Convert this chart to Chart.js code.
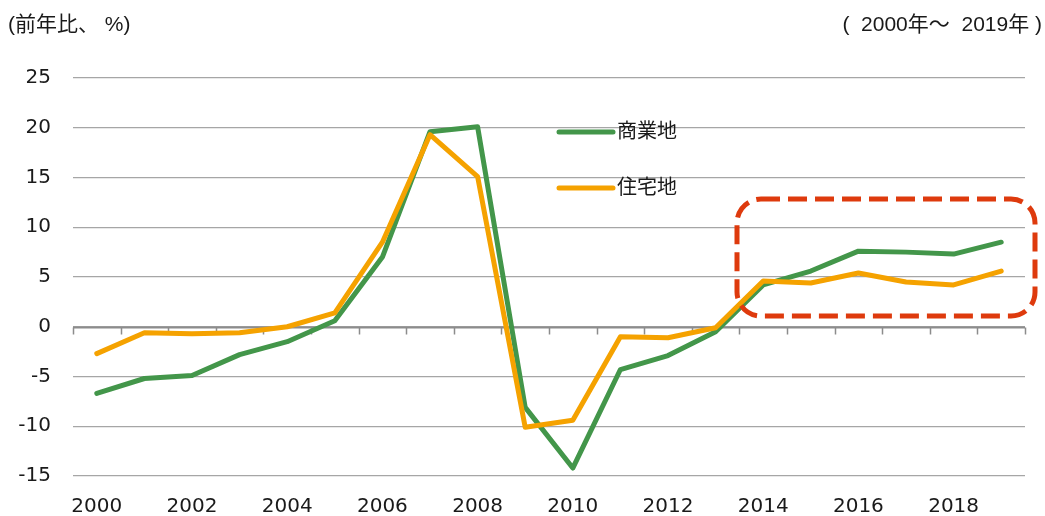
<!DOCTYPE html>
<html>
<head>
<meta charset="utf-8">
<script src="https://cdn.jsdelivr.net/npm/chart.js@4.4.1/dist/chart.umd.min.js"></script>
<style>
html,body{margin:0;padding:0;background:#fff;}
#wrap{width:1045px;height:516px;position:relative;}
</style>
</head>
<body>
<div id="wrap"><canvas id="c" width="1045" height="516"></canvas></div>
<script>
const years = ['2000','2001','2002','2003','2004','2005','2006','2007','2008','2009','2010','2011','2012','2013','2014','2015','2016','2017','2018','2019'];
const commercial = [-6.7,-5.2,-4.9,-2.8,-1.5,0.6,7.0,19.6,20.1,-8.1,-14.2,-4.3,-2.9,-0.5,4.2,5.6,7.6,7.5,7.3,8.5];
const residential = [-2.7,-0.6,-0.7,-0.6,0.0,1.4,8.5,19.3,15.1,-10.1,-9.4,-1.0,-1.1,-0.1,4.6,4.4,5.4,4.5,4.2,5.6];
const seriesNames = ['商業地','住宅地'];
const yTicks = [-15,-10,-5,0,5,10,15,20,25];
const unitLabel = '(前年比、 %)';
const periodLabel = '(  2000年～  2019年 )';

const CJK = '"Noto Sans CJK JP", "Noto Sans", sans-serif';
const MIX = '"Liberation Sans", "Noto Sans CJK JP", sans-serif';

const overlay = {
  id: 'overlay',
  beforeDatasetsDraw(chart) {
    // zero axis line with category boundary tick marks
    const ctx = chart.ctx, xs = chart.scales.x, ys = chart.scales.y;
    const ca = chart.chartArea;
    const y0 = Math.round(ys.getPixelForValue(0)) + 0.5;
    const n = chart.data.labels.length;
    const half = (xs.getPixelForValue(1) - xs.getPixelForValue(0)) / 2;
    ctx.save();
    ctx.strokeStyle = '#8c8c8c';
    ctx.lineWidth = 2;
    ctx.beginPath();
    ctx.moveTo(ca.left, y0);
    ctx.lineTo(ca.right, y0);
    ctx.stroke();
    ctx.lineWidth = 1.5;
    ctx.beginPath();
    for (let i = 0; i <= n; i++) {
      const px = Math.round(xs.getPixelForValue(i) - half) + 0.5;
      ctx.moveTo(px, y0);
      ctx.lineTo(px, y0 + 7);
    }
    ctx.stroke();
    ctx.restore();
  },
  afterDatasetsDraw(chart) {
    const ctx = chart.ctx;
    ctx.save();
    // dashed highlight box
    ctx.strokeStyle = '#DE3A0D';
    ctx.lineWidth = 5;
    ctx.setLineDash([19, 8]);
    ctx.beginPath();
    ctx.roundRect(737, 199, 298, 117, 24);
    ctx.stroke();
    ctx.setLineDash([]);
    // legend
    const ys = [132, 188];
    chart.data.datasets.forEach((ds, i) => {
      ctx.strokeStyle = ds.borderColor;
      ctx.lineWidth = 5;
      ctx.lineCap = 'round';
      ctx.beginPath();
      ctx.moveTo(559, ys[i]);
      ctx.lineTo(613, ys[i]);
      ctx.stroke();
      ctx.fillStyle = '#1a1a1a';
      ctx.font = '20px ' + CJK;
      ctx.textAlign = 'left';
      ctx.textBaseline = 'middle';
      ctx.fillText(ds.label, 617, ys[i] - 2);
    });
    ctx.restore();
  },
  afterDraw(chart) {
    const ctx = chart.ctx;
    ctx.save();
    ctx.fillStyle = '#1a1a1a';
    ctx.font = '21px ' + MIX;
    ctx.textBaseline = 'middle';
    ctx.textAlign = 'left';
    ctx.fillText(unitLabel, 8, 25);
    ctx.textAlign = 'right';
    ctx.fillText(periodLabel, 1042, 25);
    ctx.restore();
  }
};

new Chart(document.getElementById('c'), {
  type: 'line',
  data: {
    labels: years,
    datasets: [
      { label: seriesNames[0], data: commercial, borderColor: '#43964A', backgroundColor: '#43964A', borderWidth: 5, pointRadius: 0, tension: 0, borderJoinStyle: 'round', borderCapStyle: 'round', order: 1 },
      { label: seriesNames[1], data: residential, borderColor: '#F5A200', backgroundColor: '#F5A200', borderWidth: 5, pointRadius: 0, tension: 0, borderJoinStyle: 'round', borderCapStyle: 'round', order: 0 }
    ]
  },
  options: {
    responsive: false,
    animation: false,
    layout: { padding: { top: 78, left: 0, right: 20, bottom: 0 } },
    plugins: { legend: { display: false }, tooltip: { enabled: false }, title: { display: false } },
    scales: {
      x: {
        type: 'category',
        position: 'bottom',
        offset: true,
        grid: { display: false, drawTicks: false },
        border: { display: false },
        afterFit: (s) => { s.height = 40; },
        ticks: {
          autoSkip: false, maxRotation: 0, padding: 19,
          color: '#1a1a1a',
          font: { family: '"DejaVu Sans", Verdana, sans-serif', size: 20 },
          callback: function(v, i) { return i % 2 === 0 ? this.getLabelForValue(v) : ''; }
        }
      },
      y: {
        min: -15, max: 25,
        afterBuildTicks: (s) => { s.ticks = yTicks.map(v => ({ value: v })); },
        afterFit: (s) => { s.width = 73; },
        grid: { color: '#a6a6a6', lineWidth: 1.2, drawTicks: false },
        border: { display: false },
        ticks: {
          padding: 22, color: '#1a1a1a',
          font: { family: '"DejaVu Sans", Verdana, sans-serif', size: 20 }
        }
      }
    }
  },
  plugins: [overlay]
});
</script>
</body>
</html>
